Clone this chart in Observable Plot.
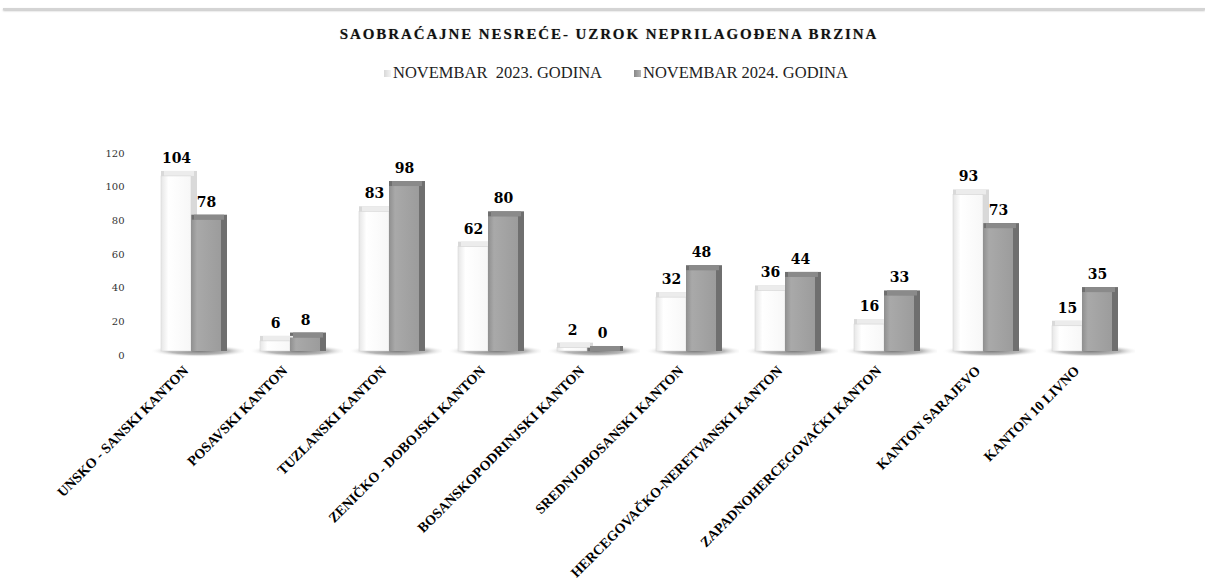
<!DOCTYPE html>
<html>
<head>
<meta charset="utf-8">
<script src="https://cdn.jsdelivr.net/npm/d3@7"></script>
<script src="https://cdn.jsdelivr.net/npm/@observablehq/plot@0.6"></script>
<style>
  html, body { margin: 0; padding: 0; background: #fff; }
  #wrap { position: relative; width: 1205px; height: 587px; overflow: hidden; font-family: "Liberation Serif", serif; }
  #topline { position: absolute; left: 3px; right: 0; top: 8px; height: 2px; background: #d4d4d4; box-shadow: 0 1px 2px rgba(0,0,0,0.25); }
  #title { position: absolute; left: 0; width: 1218px; top: 26px; text-align: center; font-family: "Liberation Serif", serif; font-weight: bold; font-size: 15px; letter-spacing: 1.9px; color: #111; text-shadow: 0 0 1px rgba(0,0,0,0.35); }
  #legend { position: absolute; top: 63px; left: 0; width: 1205px; height: 20px; font-family: "Liberation Serif", serif; font-size: 16.5px; color: #222; }
  .item { position: absolute; top: 0; white-space: pre; }
  .sw { display: inline-block; width: 7px; height: 7px; margin-right: 2px; vertical-align: 1px; }
  #chart { position: absolute; left: 0; top: 90px; }
</style>
</head>
<body>
<svg width="0" height="0" style="position:absolute">
  <defs>
    <linearGradient id="gWhite" x1="0" x2="1" y1="0" y2="0">
      <stop offset="0" stop-color="#e6e6e6"/>
      <stop offset="0.25" stop-color="#ffffff"/>
      <stop offset="1" stop-color="#f7f7f7"/>
    </linearGradient>
    <linearGradient id="gGray" x1="0" x2="1" y1="0" y2="0">
      <stop offset="0" stop-color="#8f8f8f"/>
      <stop offset="0.2" stop-color="#a9a9a9"/>
      <stop offset="1" stop-color="#9c9c9c"/>
    </linearGradient>
    <radialGradient id="floor" cx="0.55" cy="0.5" r="0.5">
      <stop offset="0" stop-color="#7a7a7a" stop-opacity="1"/>
      <stop offset="0.6" stop-color="#a8a8a8" stop-opacity="0.8"/>
      <stop offset="1" stop-color="#ffffff" stop-opacity="0"/>
    </radialGradient>
  </defs>
</svg>
<div id="wrap">
  <div id="topline"></div>
  <div id="title">SAOBRAĆAJNE NESREĆE- UZROK NEPRILAGOĐENA BRZINA</div>
  <div id="legend"></div>
  <div id="chart"></div>
</div>
<script>
const cantons = [
  "UNSKO - SANSKI KANTON",
  "POSAVSKI KANTON",
  "TUZLANSKI KANTON",
  "ZENIČKO - DOBOJSKI KANTON",
  "BOSANSKOPODRINJSKI KANTON",
  "SREDNJOBOSANSKI KANTON",
  "HERCEGOVAČKO-NERETVANSKI KANTON",
  "ZAPADNOHERCEGOVAČKI KANTON",
  "KANTON SARAJEVO",
  "KANTON 10 LIVNO"
];
const seriesNames = ["NOVEMBAR  2023. GODINA", "NOVEMBAR 2024. GODINA"];
const values2023 = [104, 6, 83, 62, 2, 32, 36, 16, 93, 15];
const values2024 = [78, 8, 98, 80, 0, 48, 44, 33, 73, 35];
const yTicks = [0, 20, 40, 60, 80, 100, 120];

const frontFill = {[seriesNames[0]]: "url(#gWhite)", [seriesNames[1]]: "url(#gGray)"};
const sideFill = {[seriesNames[0]]: "#d9d9d9", [seriesNames[1]]: "#6f6f6f"};
const topFill = {[seriesNames[0]]: "#ececec", [seriesNames[1]]: "#8a8a8a"};

const data = cantons.flatMap((c, i) => [
  {canton: c, series: seriesNames[0], value: values2023[i]},
  {canton: c, series: seriesNames[1], value: values2024[i]}
]);

// legend
const legend = document.getElementById("legend");
const legendPos = [384, 634];
seriesNames.forEach((s, i) => {
  const it = document.createElement("div");
  it.className = "item";
  it.style.left = legendPos[i] + "px";
  const sw = document.createElement("span");
  sw.className = "sw";
  sw.style.background = i === 0 ? "linear-gradient(90deg,#d8d8d8,#f4f4f4)" : "linear-gradient(90deg,#888,#b4b4b4)";
  it.appendChild(sw);
  it.appendChild(document.createTextNode(s));
  legend.appendChild(it);
});

const chart = Plot.plot({
  width: 1205,
  height: 497,
  marginLeft: 137,
  marginRight: 70,
  marginTop: 59,
  marginBottom: 236,
  style: {fontFamily: "Liberation Serif", background: "transparent", overflow: "visible"},
  fx: {domain: cantons, padding: 0, label: null},
  x: {domain: seriesNames, paddingInner: 0, paddingOuter: 0.65, axis: null},
  y: {domain: [0, 120], label: null},
  marks: [
    Plot.rect(cantons, {fx: d => d, y1: () => 0, y2: () => 0, insetTop: -6, insetBottom: -6, insetLeft: 4, insetRight: -4, fill: "url(#floor)"}),
    ...seriesNames.map(s => Plot.barY(data.filter(d => d.series === s), {
      fx: "canton", x: "series", y: "value", insetTop: -5, insetRight: -6, fill: sideFill[s]
    })),
    ...seriesNames.map(s => Plot.barY(data.filter(d => d.series === s), {
      fx: "canton", x: "series", y1: "value", y2: "value", insetTop: -5, dx: 3, fill: topFill[s]
    })),
    ...seriesNames.map(s => Plot.barY(data.filter(d => d.series === s), {
      fx: "canton", x: "series", y: "value", fill: frontFill[s],
      stroke: s === seriesNames[0] ? "#d6d6d6" : "none", strokeWidth: 0.6
    })),
    Plot.text(data, {
      fx: "canton", x: "series", y: "value", text: d => String(d.value),
      dy: -18, fontSize: 14, fontWeight: "bold", fontFamily: "DejaVu Serif", fill: "#000"
    }),
    Plot.axisY({ticks: yTicks, tickSize: 0, tickPadding: 17, dy: 4, fontSize: 10, label: null, color: "#333", fontFamily: "DejaVu Serif"}),
    Plot.axisFx({anchor: "bottom", tickRotate: -45, tickSize: 0, tickPadding: 12, fontSize: 14, fontWeight: "bold", label: null, color: "#000", dx: -5, dy: 5})
  ]
});
document.getElementById("chart").appendChild(chart);
</script>
</body>
</html>
